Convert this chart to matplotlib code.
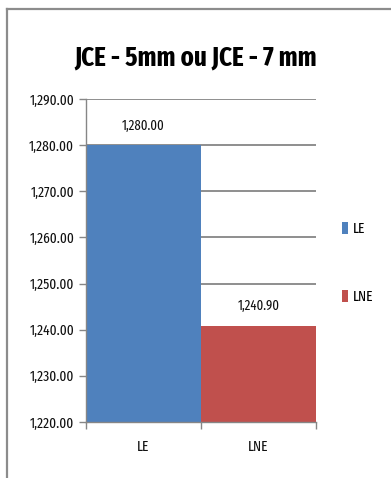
import matplotlib
matplotlib.use("Agg")
import matplotlib.pyplot as plt
from matplotlib.lines import Line2D
from matplotlib.ticker import FuncFormatter

# valeurs du graphique
categories = ["LE", "LNE"]
valeurs = [1280.00, 1240.90]
couleurs = ["#4F81BD", "#C0504D"]
titre = "JCE - 5mm ou JCE - 7 mm"

plt.rcParams['font.family'] = ['Fira Sans Extra Condensed', 'Carlito', 'DejaVu Sans']

fig = plt.figure(figsize=(3.91, 4.78), dpi=100)
ax = fig.add_axes([0.220, 0.1172, 0.588, 0.6757])

pos = list(range(len(categories)))
barres = ax.bar(pos, valeurs, width=1.0, color=couleurs, label=categories, zorder=2)
ax.bar_label(barres, labels=['{:,.2f}'.format(v) for v in valeurs],
             padding=9, fontsize=10, color="#111111")

ax.set_ylim(1220, 1290)
ax.set_yticks(range(1220, 1291, 10))
ax.yaxis.set_major_formatter(FuncFormatter(lambda v, p: '{:,.2f}'.format(v)))
ax.set_xlim(-0.5, 1.5)
ax.set_xticks(pos)
ax.set_xticklabels(categories)
ax.set_xticks([-0.5, 0.5, 1.5], minor=True)

ax.grid(axis='y', color="#868686", linewidth=1.3, zorder=0)
ax.tick_params(axis='x', which='major', length=0, pad=13, labelsize=10.5, labelcolor="#111111")
ax.tick_params(axis='x', which='minor', length=5, color="#868686", width=1)
ax.tick_params(axis='y', length=5, color="#868686", width=1, labelsize=10.5, labelcolor="#111111")
for s in ['top', 'right']:
    ax.spines[s].set_visible(False)
for s in ['left', 'bottom']:
    ax.spines[s].set_color("#868686")
    ax.spines[s].set_linewidth(1)

fig.text(0.5, 0.864, titre, ha='center', va='baseline', fontsize=19.5, fontweight='bold')

fig.legend(handles=barres, labels=categories, loc='upper left',
           bbox_to_anchor=(0.842, 0.564), frameon=False, fontsize=10.5,
           handlelength=0.4, handleheight=0.9, handletextpad=0.3, labelspacing=3.7)

# cadre du graphique
fig.add_artist(Line2D([0.019, 0.019], [0.0, 0.982], color="#8c8c8c", linewidth=1.6))
fig.add_artist(Line2D([0.019, 1.0], [0.982, 0.982], color="#8c8c8c", linewidth=1.6))

fig.savefig("out.png", dpi=100)
